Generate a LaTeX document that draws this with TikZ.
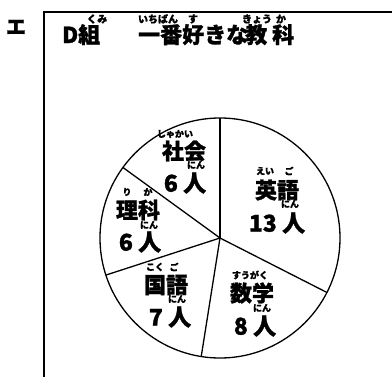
\documentclass[tikz,border=0pt]{standalone}
\usepackage{fontspec}
\setmainfont{Noto Sans CJK JP}[BoldFeatures={FakeBold=1.2}]
\tikzset{title/.style={font=\fontsize{22}{22}\selectfont\bfseries,anchor=base west,inner sep=0},
ruby/.style={font=\fontsize{9}{9}\selectfont\bfseries,inner sep=0},
title ruby/.style={font=\fontsize{10}{10}\selectfont\bfseries,inner sep=0},
subject/.style={font=\fontsize{22}{22}\selectfont\bfseries,inner sep=0},
count/.style={font=\fontsize{23}{23}\selectfont\bfseries,inner sep=0},
sector line/.style={line width=1.3pt},
frame line/.style={line width=1.8pt,line cap=rect}}
\begin{document}
\begin{tikzpicture}[x=1pt,y=1pt]
\useasboundingbox (0,0) rectangle (392,376);

%% frame and title
\coordinate (f0) at (44,0);
\coordinate (f1) at (44,364);
\coordinate (f2) at (392,364);
\draw [frame line] (f0) -- (f1) -- (f2);
\node [font=\fontsize{20}{20}\selectfont\bfseries,inner sep=0] (mark) at (16,349) {エ};
\node [title] (cls) at (62,333) {D組};
\node [title] (ttl) at (138,333) {一番好きな};
\node [title] (ttla) at (245,333) {教};
\node [title] (ttlb) at (272,333) {科};
\node [title ruby] (rcls) at (97,357) {くみ};
\node [title ruby] (rttl) at (158,357) {いちばん};
\node [title ruby] (rttls) at (193,357) {す};
\node [title ruby] (rttla) at (257,357) {きょう};
\node [title ruby] (rttlb) at (281,357) {か};

%% pie: 13+8+7+6+6 = 40
\coordinate (c) at (220,138);
\draw [sector line] (c) circle (120);
\foreach \a in {90,-27,-99,-162,144}
  \draw [sector line] (c) -- ++(\a:120);

%% english
\node [subject] (eng) at (277,186) {英語};
\node [ruby] (reng) at (265,205) {えい};
\node [ruby] (rengb) at (289,205) {ご};
\node [count] (neng) at (277,153) {13 人};
\node [ruby] (ueng) at (290,172) {にん};

%% math
\node [subject] (mat) at (252,83) {数学};
\node [ruby] (rmat) at (250,101) {すうがく};
\node [count] (nmat) at (255,50) {8 人};
\node [ruby] (umat) at (262,68) {にん};

%% japanese
\node [subject] (jap) at (166,91) {国語};
\node [ruby] (rjap) at (155,109) {こく};
\node [ruby] (rjapb) at (174,109) {ご};
\node [count] (njap) at (170,59) {7 人};
\node [ruby] (ujap) at (177,77) {にん};

%% science
\node [subject] (sci) at (138,166) {理科};
\node [ruby] (rsci) at (127,184) {り};
\node [ruby] (rscib) at (148,184) {か};
\node [count] (nsci) at (140,134) {6 人};
\node [ruby] (usci) at (149,151) {にん};

%% social studies
\node [subject] (soc) at (184,225) {社会};
\node [ruby] (rsoc) at (175,242) {しゃかい};
\node [count] (nsoc) at (185,193) {6 人};
\node [ruby] (usoc) at (196,211) {にん};

\end{tikzpicture}
\end{document}
